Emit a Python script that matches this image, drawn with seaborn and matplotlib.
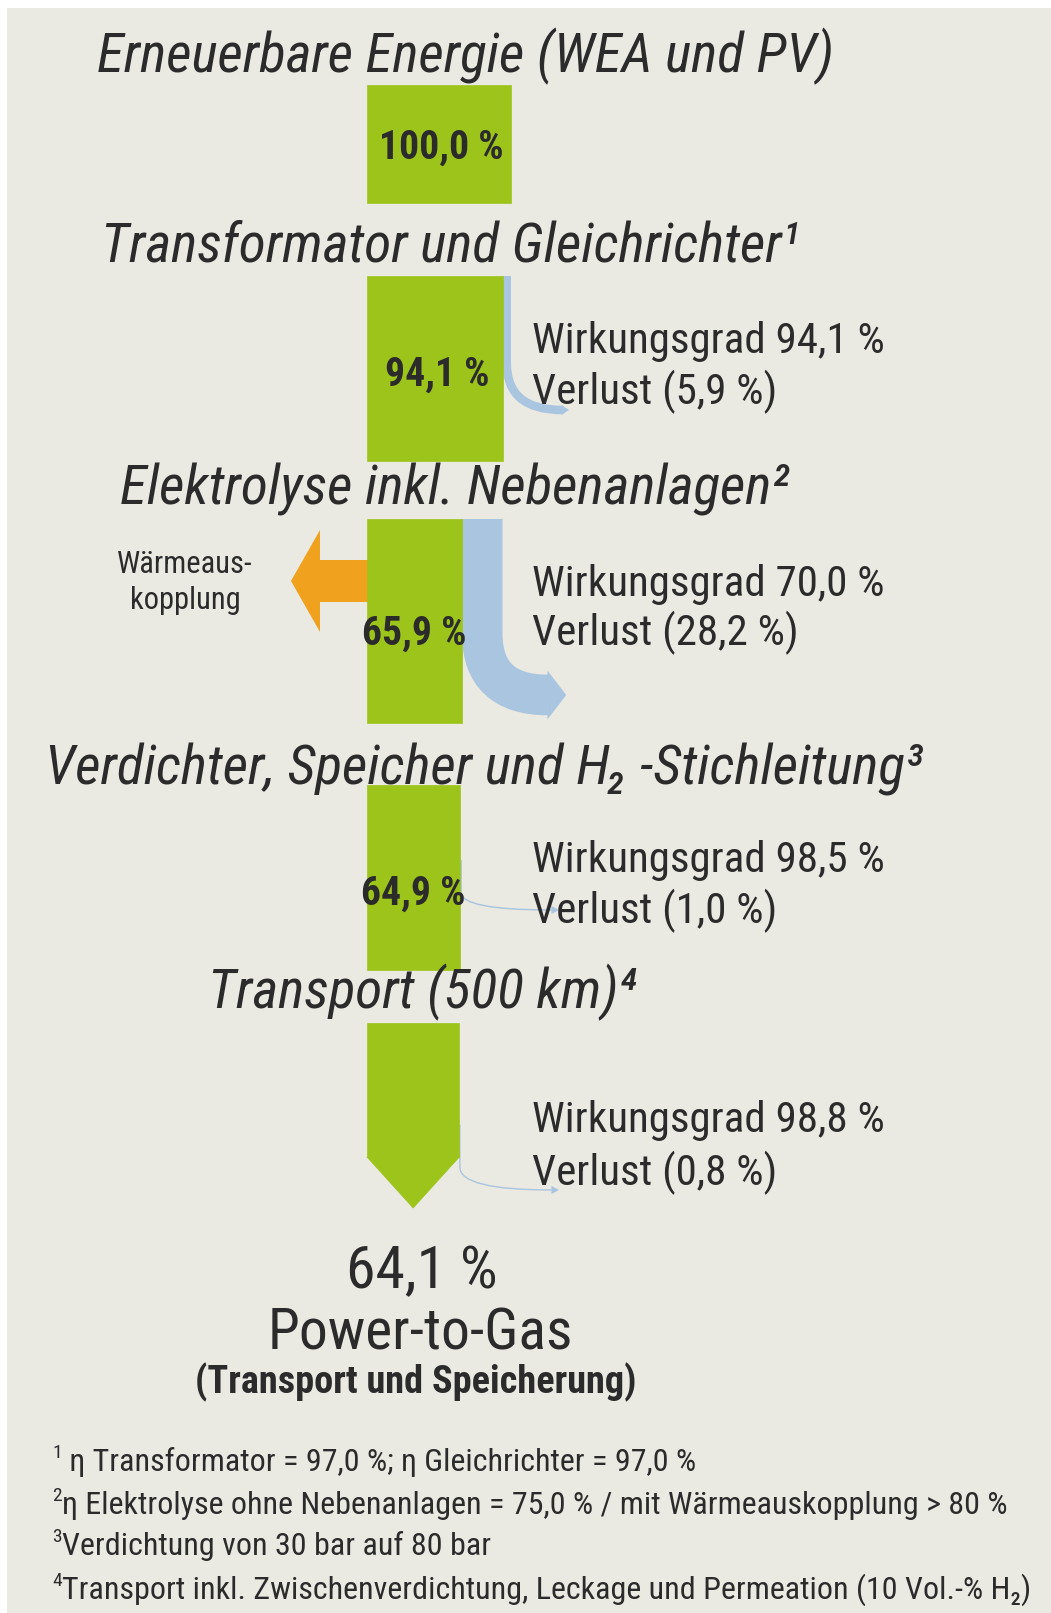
import matplotlib
matplotlib.use('Agg')
import matplotlib.pyplot as plt
from matplotlib import font_manager
from matplotlib.path import Path
from matplotlib.patches import PathPatch, Rectangle
import seaborn as sns

# stages of the power-to-gas chain
stages = [
    "Erneuerbare Energie (WEA und PV)",
    "Transformator und Gleichrichter\u00b9",
    "Elektrolyse inkl. Nebenanlagen\u00b2",
    "Verdichter, Speicher und H\u2082 -Stichleitung\u00b3",
    "Transport (500 km)\u2074",
]
remaining = [100.0, 94.1, 65.9, 64.9, 64.1]   # % of input energy left after each stage
efficiency = [None, 94.1, 70.0, 98.5, 98.8]
loss = [0.0, 5.9, 28.2, 1.0, 0.8]

result_label = "Power-to-Gas"
result_sub = "(Transport und Speicherung)"
heat_label = "W\u00e4rmeaus-\nkopplung"

footnote_marks = ["1", "2", "3", "4"]
footnotes = [
    " \u03b7 Transformator = 97,0 %; \u03b7 Gleichrichter = 97,0 %",
    "\u03b7 Elektrolyse ohne Nebenanlagen = 75,0 % / mit W\u00e4rmeauskopplung > 80 %",
    "Verdichtung von 30 bar auf 80 bar",
    "Transport inkl. Zwischenverdichtung, Leckage und Permeation (10 Vol.-% H\u2082)",
]

def pct(v):
    return f"{v:.1f}".replace(".", ",") + " %"

# layout (pixel coords of a 1051x1613 canvas)
W, H = 1051, 1613
PX_PER_PCT = 1.44
BOX_LEFT = 367
title_y = [72, 262, 504, 785, 1008]
title_x = [465, 450, 455, 484, 422]
box_top = [85, 276, 519, 785, 1023]
box_bot = [203, 461, 723, 970, 1157]
tip_y = 1208
label_y = [159, 386, 645, 905]
info_y = [None, (353, 404), (596, 645), (872, 923), (1132, 1185)]
loss_start = [None, 276, 519, 860, 1125]
loss_end = [None, (562, 410), (548, 695), (552, 910), (552, 1190)]

GREEN = "#9dc41a"
BLUE = "#a9c5df"
ORANGE = "#f0a11e"
BG = "#eae9e2"
INK = "#2b2b2b"

sns.set_theme(style="white")
# condensed face like the original's Arial Narrow, if one is around
names = {f.name for f in font_manager.fontManager.ttflist}
narrow_fonts = ["Roboto Condensed", "Liberation Sans Narrow", "PT Sans Narrow", "Archivo Narrow"]
found = [n for n in narrow_fonts if n in names]
if found:
    main_font, k = found[0], 1.0
else:
    main_font, k = "Liberation Sans", 0.82
plt.rcParams['font.family'] = [main_font, "DejaVu Sans"]

fig = plt.figure(figsize=(W / 100, H / 100), dpi=100, facecolor="white")
ax = fig.add_axes([0, 0, 1, 1])
ax.set_xlim(0, W)
ax.set_ylim(H, 0)
ax.axis("off")
ax.add_patch(Rectangle((7, 8), W, H, facecolor=BG, edgecolor="none", zorder=0))

# green flow boxes, width proportional to remaining energy
widths = [v * PX_PER_PCT for v in remaining]
ax.bar(BOX_LEFT, [b - t for t, b in zip(box_top[:4], box_bot[:4])],
       width=widths[:4], bottom=box_top[:4], align="edge",
       color=GREEN, edgecolor=GREEN, linewidth=0.5, zorder=2)
ax.bar(BOX_LEFT, box_bot[4] - box_top[4], width=widths[4], bottom=box_top[4],
       align="edge", color=GREEN, edgecolor=GREEN, linewidth=0.5, zorder=2)
ax.fill([BOX_LEFT, BOX_LEFT + widths[4], BOX_LEFT + widths[4] / 2],
        [box_bot[4], box_bot[4], tip_y], color=GREEN, lw=0.5, zorder=2)

# loss flows (blue), thickness proportional to loss
for i in range(1, 5):
    w = loss[i] * PX_PER_PCT
    x0 = BOX_LEFT + widths[i] + w / 2
    xe, ye = loss_end[i]
    y0 = loss_start[i]
    turn = ye - (ye - y0) * 0.35
    verts = [(x0, y0), (x0, turn), (x0, ye), (xe, ye)]
    codes = [Path.MOVETO, Path.LINETO, Path.CURVE3, Path.CURVE3]
    ax.add_patch(PathPatch(Path(verts, codes), facecolor="none", edgecolor=BLUE,
                           lw=max(w * 0.72, 1.0), capstyle="butt", zorder=1))
    hh = max(w * 0.6, 4)
    hl = max(w * 0.45, 7)
    ax.fill([xe - 0.5, xe - 0.5, xe + hl], [ye - hh, ye + hh, ye], color=BLUE, lw=0, zorder=1)

# heat extraction arrow (orange) left of the electrolysis box
hy0, hy1 = 560, 602
ax.fill([BOX_LEFT + 1, 320, 320, 291, 320, 320, BOX_LEFT + 1],
        [hy0, hy0, 530, (hy0 + hy1) / 2, 632, hy1, hy1], color=ORANGE, lw=0, zorder=1)
ax.text(185, 573, heat_label.split("\n")[0], ha="center", va="baseline",
        fontsize=22 * k, color=INK)
ax.text(185, 609, heat_label.split("\n")[1], ha="center", va="baseline",
        fontsize=22 * k, color=INK)

# stage titles
for x, y, s in zip(title_x, title_y, stages):
    ax.text(x, y, s, ha="center", va="baseline", fontsize=40 * k, style="italic",
            color=INK, zorder=5)

# values inside boxes
for i, y in enumerate(label_y):
    ax.text(BOX_LEFT + widths[i] / 2 + (2 if i < 2 else 0), y, pct(remaining[i]),
            ha="center", va="baseline", fontsize=28.5 * k, fontweight="bold",
            color=INK, zorder=5)

# efficiency / loss texts
for i in range(1, 5):
    ya, yb = info_y[i]
    ax.text(532, ya, "Wirkungsgrad " + pct(efficiency[i]), ha="left", va="baseline",
            fontsize=31 * k, color=INK, zorder=5)
    ax.text(532, yb, "Verlust (" + pct(loss[i]) + ")", ha="left", va="baseline",
            fontsize=31 * k, color=INK, zorder=5)

# result
ax.text(422, 1288, pct(remaining[-1]), ha="center", va="baseline", fontsize=43 * k, color=INK)
ax.text(420, 1350, result_label, ha="center", va="baseline", fontsize=41.5 * k, color=INK)
ax.text(416, 1393, result_sub, ha="center", va="baseline", fontsize=27.5 * k,
        fontweight="bold", color=INK)

# footnotes
foot_y = [1471, 1514, 1555, 1599]
for m, s, y in zip(footnote_marks, footnotes, foot_y):
    ax.text(52, y - 13, m, ha="left", va="baseline", fontsize=14 * k, color=INK)
    ax.text(62, y, s, ha="left", va="baseline", fontsize=23 * k, color=INK)

fig.savefig("out.png", dpi=100, facecolor="white")
